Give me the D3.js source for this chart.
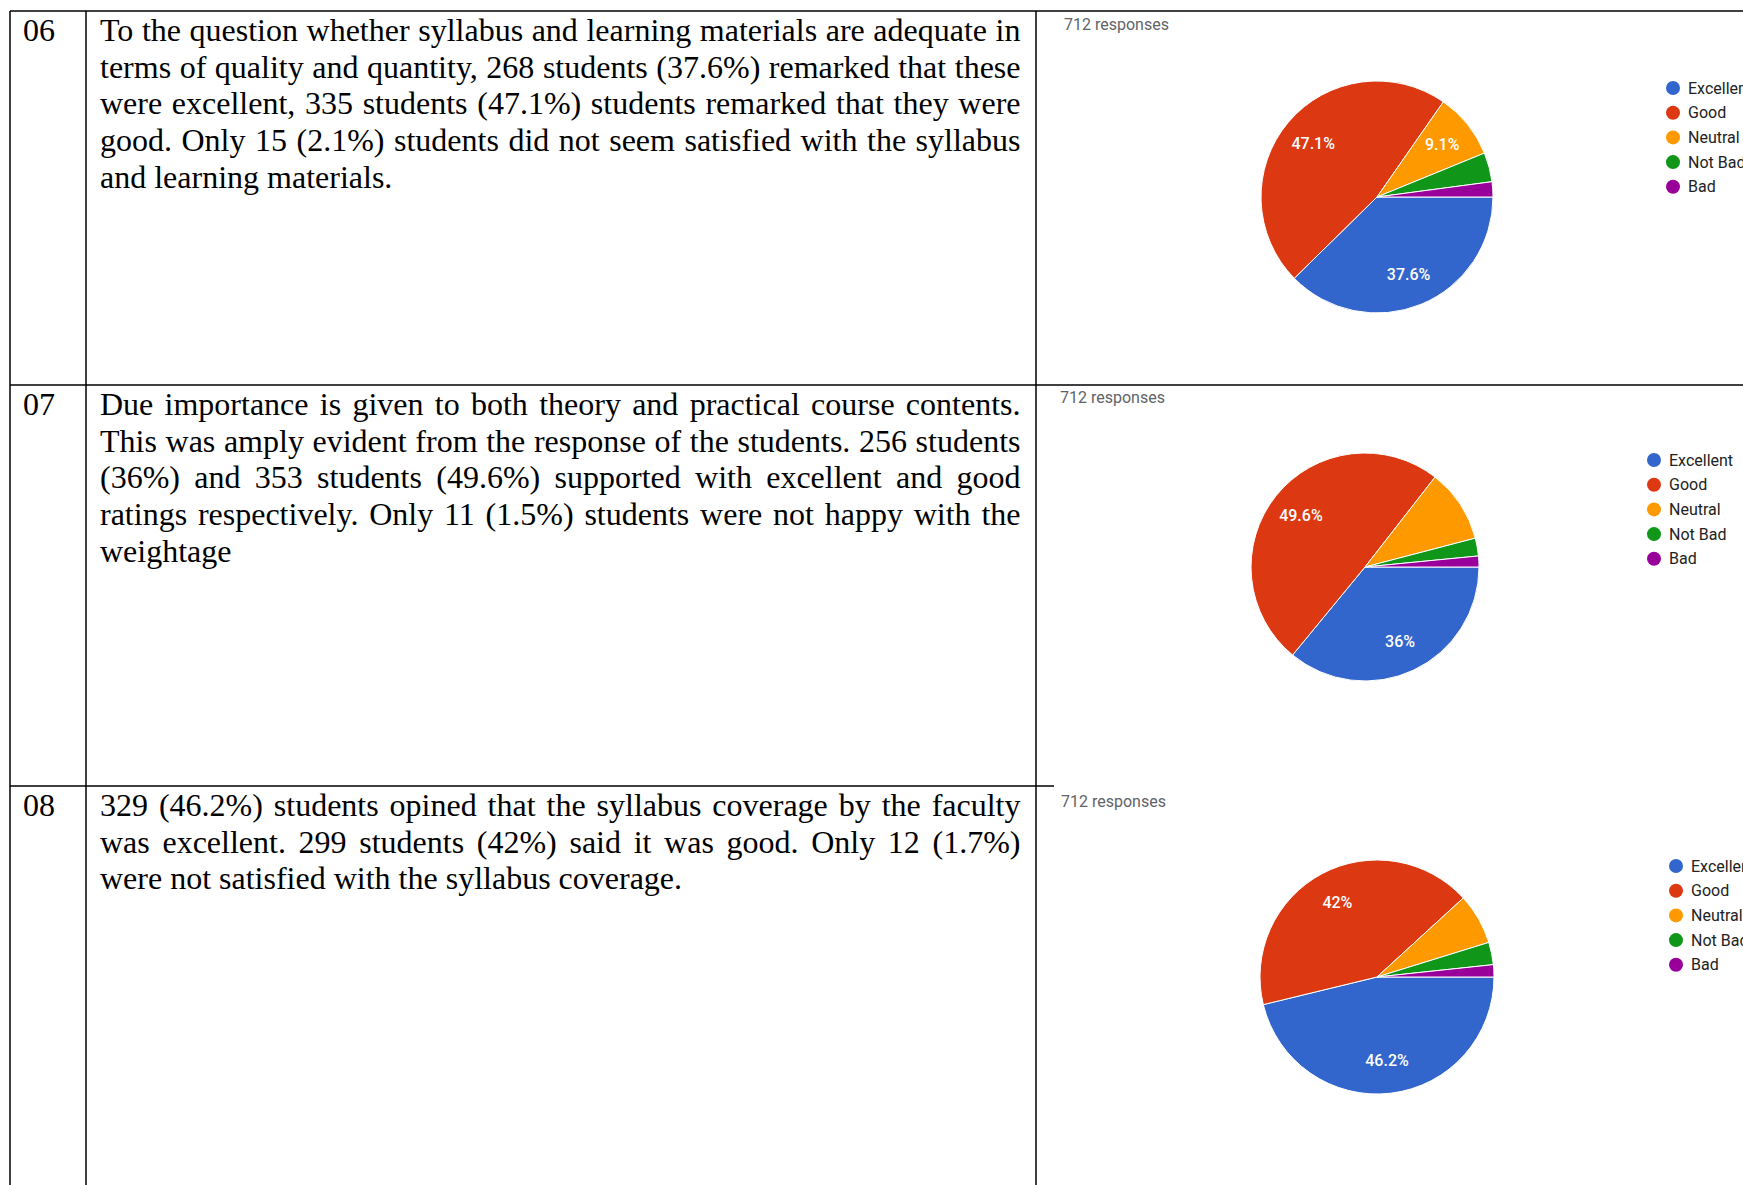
<!DOCTYPE html>
<html>
<head>
<meta charset="utf-8">
<script src="https://cdn.jsdelivr.net/npm/d3@7"></script>
<style>
  body { margin: 0; background: #fff; }
  svg { display: block; }
  .body { font-family: "Liberation Serif", "Times New Roman", serif; font-size: 32px; fill: #000; }
  .count { font-family: Roboto, Arial, sans-serif; font-size: 16px; fill: #5f6368; }
  .legend { font-family: Roboto, Arial, sans-serif; font-size: 16px; fill: #222; }
  .slice-label { font-family: Roboto, Arial, sans-serif; font-size: 16px; font-weight: 500; fill: #fff; }
</style>
</head>
<body>
<script>
// answer categories, in the order of the form
const categories = ['Excellent', 'Good', 'Neutral', 'Not Bad', 'Bad'];

// responses per category for each question
const responses06 = [268, 335, 65, 29, 15];
const responses07 = [256, 353, 74, 18, 11];
const responses08 = [329, 299, 50, 22, 12];

// slices that carry a percentage label in the picture
const labelled06 = ['Excellent', 'Good', 'Neutral'];
const labelled07 = ['Excellent', 'Good'];
const labelled08 = ['Excellent', 'Good'];

const rowNumbers = ['06', '07', '08'];

const text06 = [
  'To the question whether syllabus and learning materials are adequate in',
  'terms of quality and quantity, 268 students (37.6%) remarked that these',
  'were excellent, 335 students (47.1%) students remarked that they were',
  'good. Only 15 (2.1%) students did not seem satisfied with the syllabus',
  'and learning materials.'
];
const text07 = [
  'Due importance is given to both theory and practical course contents.',
  'This was amply evident from the response of the students. 256 students',
  '(36%) and 353 students (49.6%) supported with excellent and good',
  'ratings respectively. Only 11 (1.5%) students were not happy with the',
  'weightage'
];
const text08 = [
  '329 (46.2%) students opined that the syllabus coverage by the faculty',
  'was excellent. 299 students (42%) said it was good. Only 12 (1.7%)',
  'were not satisfied with the syllabus coverage.'
];

const width = 1743, height = 1185;
const color = d3.scaleOrdinal()
  .domain(categories)
  .range(['#3366cc', '#dc3912', '#ff9900', '#109618', '#990099']);
const pct = d3.format('.1~%');

// layout of each row: table row top, pie centre / radius, legend origin
const rows = [
  {num: rowNumbers[0], text: text06, values: responses06, labelled: labelled06,
   top: 11, cx: 1377, cy: 197, r: 116, lx: 1673, ly: 88, tx: 1064, ty: 30},
  {num: rowNumbers[1], text: text07, values: responses07, labelled: labelled07,
   top: 385, cx: 1365, cy: 567, r: 114, lx: 1654, ly: 460, tx: 1060, ty: 403},
  {num: rowNumbers[2], text: text08, values: responses08, labelled: labelled08,
   top: 786, cx: 1377, cy: 977, r: 117, lx: 1676, ly: 866, tx: 1061, ty: 807}
];

const svg = d3.select('body').append('svg')
  .attr('width', width)
  .attr('height', height);

// table grid
const grid = svg.append('g')
  .attr('stroke', '#000')
  .attr('stroke-width', 1.5);
[[10, 11, width, 11], [10, 385, width, 385], [10, 786, 1054, 786],
 [10, 11, 10, height], [86, 11, 86, height], [1036, 11, 1036, height]]
  .forEach(([x1, y1, x2, y2]) => grid.append('line')
    .attr('x1', x1).attr('y1', y1).attr('x2', x2).attr('y2', y2));

const lineH = 36.7;
const textLeft = 100, textRight = 1020.5;

// justified paragraph: spread the words of every line but the last
function paragraph(g, lines, y0) {
  lines.forEach((line, i) => {
    const words = line.split(' ');
    const t = g.append('text').attr('class', 'body').attr('y', y0 + i * lineH);
    const spans = words.map(w => t.append('tspan').text(w));
    const widths = spans.map(s => s.node().getComputedTextLength());
    const last = i === lines.length - 1;
    const gap = last ? 8 : (textRight - textLeft - d3.sum(widths)) / (words.length - 1);
    let x = textLeft;
    spans.forEach((s, j) => {
      s.attr('x', x);
      x += widths[j] + gap;
    });
  });
}

const pie = d3.pie().sort(null).value(d => d)
  .startAngle(Math.PI / 2)
  .endAngle(Math.PI / 2 + 2 * Math.PI);

rows.forEach(row => {
  const g = svg.append('g');
  g.append('text').attr('class', 'body')
    .attr('x', 23).attr('y', row.top + 30)
    .text(row.num);
  paragraph(g, row.text, row.top + 30);

  g.append('text').attr('class', 'count')
    .attr('x', row.tx).attr('y', row.ty)
    .text(d3.sum(row.values) + ' responses');

  const arcs = pie(row.values);
  const arc = d3.arc().innerRadius(0).outerRadius(row.r);
  const labelArc = d3.arc().innerRadius(row.r * 0.72).outerRadius(row.r * 0.72);
  const total = d3.sum(row.values);

  const pg = g.append('g').attr('transform', `translate(${row.cx},${row.cy})`);
  pg.selectAll('path')
    .data(arcs)
    .join('path')
      .attr('d', arc)
      .attr('fill', (d, i) => color(categories[i]))
      .attr('stroke', '#fff')
      .attr('stroke-width', 1);

  pg.selectAll('text')
    .data(arcs.filter((d, i) => row.labelled.includes(categories[i])))
    .join('text')
      .attr('class', 'slice-label')
      .attr('text-anchor', 'middle')
      .attr('dy', '0.35em')
      .attr('transform', d => `translate(${labelArc.centroid(d)})`)
      .text(d => pct(d.value / total));

  const legend = g.append('g').attr('transform', `translate(${row.lx},${row.ly})`);
  const item = legend.selectAll('g')
    .data(categories)
    .join('g')
      .attr('transform', (d, i) => `translate(0,${i * 24.7})`);
  item.append('circle')
    .attr('r', 7)
    .attr('fill', d => color(d));
  item.append('text')
    .attr('class', 'legend')
    .attr('x', 15)
    .attr('dy', '0.35em')
    .text(d => d);
});
</script>
</body>
</html>
